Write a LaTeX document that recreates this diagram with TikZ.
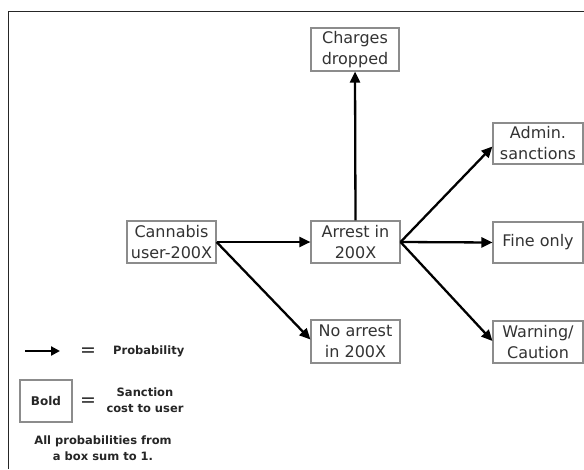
\documentclass[tikz,border=0pt]{standalone}
\usepackage{fontspec}
\setmainfont{DejaVu Sans}
\usetikzlibrary{arrows.meta}
\tikzset{
  box/.style={draw=black!45, line width=1.1pt, text=black!80, inner sep=0pt,
    minimum width=89pt, minimum height=42pt, align=center,
    font=\fontsize{16}{21}\selectfont},
  prob/.style={line width=2.3pt, -{Triangle[length=11pt,width=10pt]}},
  legtext/.style={align=center, inner sep=0pt, text=black!85,
    font=\fontsize{11.5}{15.5}\selectfont\bfseries},
  eqsign/.style={inner sep=0pt, font=\fontsize{19}{19}\selectfont, text=black!85}
}
\begin{document}
\begin{tikzpicture}[x=1pt,y=-1pt]
\useasboundingbox (0,0) rectangle (584,469);
\fill[white] (0,0) rectangle (584,469);
% frame
\draw[line width=1pt, black!85] (8.5,469) -- (8.5,11.5) -- (584,11.5);
% nodes
\node[box, minimum width=88pt, minimum height=43pt] (charges) at (355,49.5) {Charges\\dropped};
\node[box] (cannabis) at (171.5,242) {Cannabis\\user-200X};
\node[box] (arrest) at (355.5,242) {Arrest in\\200X};
\node[box, minimum height=43pt] (noarrest) at (355.5,341.5) {No arrest\\in 200X};
\node[box, minimum width=90pt, minimum height=41pt] (admin) at (538,143.5) {Admin.\\sanctions};
\node[box, minimum width=90pt, minimum height=41pt] (fine) at (538,242.5) {Fine only};
\node[box, minimum width=90pt] (warning) at (538,342) {Warning/\\Caution};
% connectors
\draw[prob] (cannabis.east) -- (arrest.west);
\draw[prob] (cannabis.east) -- ([yshift=2pt]noarrest.west);
\draw[prob] (arrest.north) -- (charges.south);
\draw[prob] (arrest.east) -- ([yshift=-3pt]admin.west);
\draw[prob] (arrest.east) -- (fine.west);
\draw[prob] (arrest.east) -- ([yshift=1pt]warning.west);
% legend
\coordinate (la) at (25,351);
\coordinate (lb) at (60,351);
\draw[prob, line width=2.3pt, -{Triangle[length=9pt,width=9pt]}] (la) -- (lb);
\node[eqsign] (eq1) at (88,352) {=};
\node[legtext, anchor=west] (probtxt) at (113,351) {Probability};
\node[draw=black!45, line width=1.1pt, minimum width=52pt, minimum height=42pt, inner sep=0pt,
  text=black!85, font=\fontsize{12}{15}\selectfont\bfseries] (bold) at (46,401) {Bold};
\node[eqsign] (eq2) at (88,402) {=};
\node[legtext] (sanction) at (145,400) {Sanction\\cost to user};
\node[legtext] (allprob) at (103,448) {All probabilities from\\a box sum to 1.};
\end{tikzpicture}
\end{document}
